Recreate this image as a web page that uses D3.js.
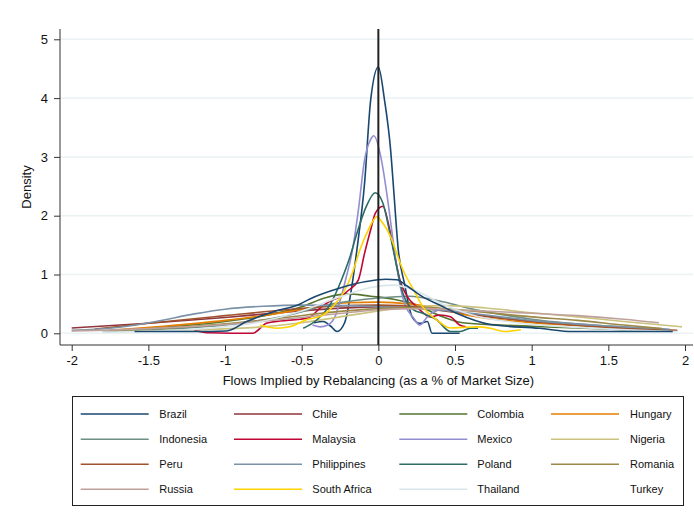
<!DOCTYPE html>
<html>
<head>
<meta charset="utf-8">
<script src="https://cdn.jsdelivr.net/npm/d3@7"></script>
<style>
  body { margin: 0; background: #fff; }
  svg { display: block; font-family: Helvetica, Arial, "Liberation Sans", sans-serif; }
</style>
</head>
<body>
<div id="chart"></div>
<script>
// kernel density estimates: [flow, density]
const brazil = [[-0.42,0.18],[-0.36,0.2],[-0.31,0.12],[-0.27,0.03],[-0.22,0.18],[-0.18,0.68],[-0.14,1.42],[-0.09,2.55],[-0.05,3.97],[0,4.53],[0.04,3.97],[0.08,3.12],[0.1,2.44],[0.13,1.42],[0.17,0.85],[0.22,0.28],[0.27,0.17],[0.32,0.2],[0.35,0],[0.53,0]];
const chile = [[-2,0.09],[-1.5,0.17],[-1,0.27],[-0.6,0.36],[-0.3,0.42],[0,0.45],[0.3,0.42],[0.6,0.32],[1,0.2],[1.5,0.1],[1.9,0.05]];
const colombia = [[-1.78,0.04],[-1.4,0.1],[-1,0.2],[-0.7,0.32],[-0.5,0.45],[-0.35,0.6],[-0.2,0.67],[-0.05,0.63],[0.1,0.58],[0.25,0.48],[0.4,0.3],[0.55,0.18],[0.8,0.14],[1.2,0.1],[1.6,0.06],[1.9,0.04]];
const hungary = [[-1.75,0.05],[-1.4,0.12],[-1,0.22],[-0.7,0.32],[-0.4,0.45],[-0.2,0.52],[0,0.53],[0.2,0.5],[0.4,0.42],[0.6,0.3],[1,0.18],[1.4,0.12],[1.85,0.06]];
const indonesia = [[-1.78,0.03],[-1.4,0.07],[-1,0.14],[-0.6,0.3],[-0.3,0.5],[0,0.6],[0.2,0.63],[0.4,0.55],[0.6,0.42],[0.8,0.32],[1,0.24],[1.4,0.14],[1.9,0.06]];
const malaysia = [[-1.2,0.05],[-1.1,0.01],[-0.82,0],[-0.73,0.17],[-0.64,0.21],[-0.51,0.24],[-0.45,0.27],[-0.38,0.43],[-0.32,0.54],[-0.25,0.62],[-0.19,0.74],[-0.13,0.91],[-0.09,1.36],[-0.05,1.76],[-0.02,2.04],[0.03,2.16],[0.065,1.87],[0.1,1.42],[0.14,0.91],[0.19,0.62],[0.25,0.45],[0.34,0.28],[0.4,0.31],[0.47,0.28],[0.53,0.14],[0.57,0.11]];
const mexico = [[-0.43,0.14],[-0.38,0.11],[-0.33,0.14],[-0.28,0.3],[-0.25,0.55],[-0.21,0.95],[-0.17,1.4],[-0.13,2.1],[-0.09,2.95],[-0.05,3.3],[-0.03,3.36],[0.02,2.95],[0.055,2.38],[0.09,1.7],[0.12,1.13],[0.17,0.51],[0.23,0.26],[0.27,0.14],[0.32,0.28],[0.36,0.36],[0.4,0.4]];
const nigeria = [[-1.7,0.03],[-1.2,0.06],[-0.8,0.1],[-0.5,0.18],[-0.2,0.3],[0,0.38],[0.2,0.45],[0.45,0.47],[0.7,0.43],[1,0.35],[1.3,0.28],[1.6,0.2],[1.98,0.11]];
const peru = [[-1.85,0.07],[-1.5,0.17],[-1,0.3],[-0.6,0.4],[-0.3,0.46],[0,0.48],[0.3,0.44],[0.6,0.33],[1,0.2],[1.5,0.1],[1.95,0.05]];
const philippines = [[-2,0.05],[-1.7,0.1],[-1.45,0.2],[-1.2,0.33],[-1,0.41],[-0.75,0.46],[-0.5,0.48],[-0.2,0.47],[0,0.45],[0.3,0.42],[0.5,0.37],[0.8,0.28],[1,0.22],[1.4,0.14],[1.9,0.07]];
const poland = [[-0.49,0.085],[-0.4,0.23],[-0.31,0.51],[-0.24,0.91],[-0.185,1.3],[-0.14,1.7],[-0.08,2.15],[-0.02,2.39],[0.03,2.21],[0.08,1.64],[0.12,1.13],[0.16,0.68],[0.23,0.4],[0.29,0.34],[0.38,0.23],[0.47,0.03],[0.53,0.03],[0.6,0.085],[0.65,0.085]];
const romania = [[-1.8,0.04],[-1.4,0.09],[-1,0.16],[-0.6,0.27],[-0.3,0.36],[0,0.42],[0.3,0.44],[0.6,0.38],[1,0.28],[1.3,0.22],[1.6,0.14],[1.85,0.08]];
const russia = [[-2,0.04],[-1.5,0.08],[-1,0.15],[-0.5,0.27],[-0.2,0.35],[0,0.4],[0.3,0.42],[0.6,0.39],[1,0.34],[1.3,0.3],[1.6,0.24],[1.83,0.18]];
const southAfrica = [[-0.77,0.14],[-0.66,0.085],[-0.58,0.11],[-0.47,0.23],[-0.36,0.31],[-0.3,0.45],[-0.23,0.68],[-0.17,1.02],[-0.12,1.42],[-0.065,1.76],[-0.01,1.98],[0.03,1.87],[0.08,1.64],[0.12,1.36],[0.16,1.08],[0.23,0.74],[0.29,0.45],[0.38,0.23],[0.47,0.09],[0.55,0.1],[0.64,0.11],[0.73,0.085],[0.82,0.03],[0.93,0.06]];
const thailand = [[-1.8,0.02],[-1.2,0.07],[-0.8,0.18],[-0.5,0.38],[-0.25,0.62],[-0.05,0.78],[0.1,0.82],[0.25,0.72],[0.4,0.52],[0.6,0.32],[0.9,0.18],[1.3,0.1],[1.7,0.05],[1.95,0.03]];
const turkey = [[-1.59,0.03],[-1.2,0.03],[-0.99,0.04],[-0.86,0.2],[-0.68,0.37],[-0.51,0.5],[-0.45,0.58],[-0.25,0.77],[-0.08,0.88],[0.05,0.92],[0.12,0.91],[0.19,0.8],[0.29,0.62],[0.4,0.48],[0.51,0.34],[0.73,0.15],[1.05,0.085],[1.27,0.03],[1.92,0.03]];

const countries = ['Brazil','Chile','Colombia','Hungary','Indonesia','Malaysia','Mexico','Nigeria','Peru','Philippines','Poland','Romania','Russia','South Africa','Thailand','Turkey'];
const series = [brazil, chile, colombia, hungary, indonesia, malaysia, mexico, nigeria, peru, philippines, poland, romania, russia, southAfrica, thailand, turkey];
const colors = ['#1a476f','#90353b','#55752f','#e37e00','#6e8e84','#c10534','#938dd2','#cac27e','#a0522d','#7b92a8','#2d6d66','#9c8847','#bfa19c','#ffd200','#d9e6eb','#1a476f'];
const noKey = ['Turkey']; // legend shows no key line for this one

const xTicks = [-2, -1.5, -1, -0.5, 0, 0.5, 1, 1.5, 2];
const yTicks = [0, 1, 2, 3, 4, 5];

const width = 694, height = 521;
const svg = d3.select('#chart').append('svg').attr('width', width).attr('height', height);

const x = d3.scaleLinear().domain([-2, 2]).range([71.7, 685]);
const y = d3.scaleLinear().domain([0, 5]).range([333.3, 39.3]);
const plot = { left: 60, right: 693, top: 29, bottom: 345 };

// grid
svg.append('g').selectAll('line').data(yTicks).enter().append('line')
  .attr('x1', plot.left).attr('x2', plot.right)
  .attr('y1', d => y(d)).attr('y2', d => y(d))
  .attr('stroke', '#eaf2f3').attr('stroke-width', 1.5);

// axes
const xAxis = svg.append('g').attr('transform', `translate(0,${plot.bottom})`)
  .call(d3.axisBottom(x).tickValues(xTicks).tickSize(6).tickPadding(5).tickFormat(d => String(d)));
const yAxis = svg.append('g').attr('transform', `translate(${plot.left},0)`)
  .call(d3.axisLeft(y).tickValues(yTicks).tickSize(6).tickPadding(6).tickFormat(d => String(d)));
[xAxis, yAxis].forEach(g => {
  g.select('.domain').remove();
  g.selectAll('line').attr('stroke', '#333');
  g.selectAll('text').attr('fill', '#111').style('font-size', '13px');
});
svg.append('line').attr('x1', plot.left).attr('x2', plot.right).attr('y1', plot.bottom).attr('y2', plot.bottom)
  .attr('stroke', '#333').attr('stroke-width', 1);
svg.append('line').attr('x1', plot.left).attr('x2', plot.left).attr('y1', plot.top).attr('y2', plot.bottom)
  .attr('stroke', '#333').attr('stroke-width', 1);

// curves
const line = d3.line().x(d => x(d[0])).y(d => y(d[1])).curve(d3.curveMonotoneX);
svg.append('g').selectAll('path').data(series).enter().append('path')
  .attr('d', line)
  .attr('fill', 'none')
  .attr('stroke', (d, i) => colors[i])
  .attr('stroke-width', 1.6)
  .attr('stroke-linejoin', 'round');

// zero line
svg.append('line').attr('x1', x(0)).attr('x2', x(0)).attr('y1', plot.top).attr('y2', plot.bottom)
  .attr('stroke', '#222').attr('stroke-width', 2);

// axis titles
svg.append('text').attr('x', x(0)).attr('y', 385).attr('text-anchor', 'middle')
  .style('font-size', '13px').attr('fill', '#111')
  .text('Flows Implied by Rebalancing (as a % of Market Size)');
svg.append('text').attr('transform', 'translate(31,187) rotate(-90)').attr('text-anchor', 'middle')
  .style('font-size', '13px').attr('fill', '#111').text('Density');

// legend
const legend = svg.append('g');
legend.append('rect').attr('x', 72.5).attr('y', 396.5).attr('width', 611).attr('height', 109)
  .attr('fill', '#fff').attr('stroke', '#222').attr('stroke-width', 1);
const colKey = [80.7, 234, 399.3, 551];
const colLabel = [159.3, 312.3, 477.3, 630];
const rowY = [414, 439.3, 464.3, 489.3];
const items = legend.selectAll('g.item').data(countries).enter().append('g').attr('class', 'item')
  .attr('transform', (d, i) => `translate(0,${rowY[Math.floor(i / 4)]})`);
items.append('line')
  .attr('x1', (d, i) => colKey[i % 4]).attr('x2', (d, i) => colKey[i % 4] + 68)
  .attr('stroke', (d, i) => noKey.includes(d) ? 'none' : colors[i]).attr('stroke-width', 1.6);
items.append('text').attr('x', (d, i) => colLabel[i % 4]).attr('dy', '0.35em')
  .style('font-size', '11px').attr('fill', '#111').text(d => d);
</script>
</body>
</html>
